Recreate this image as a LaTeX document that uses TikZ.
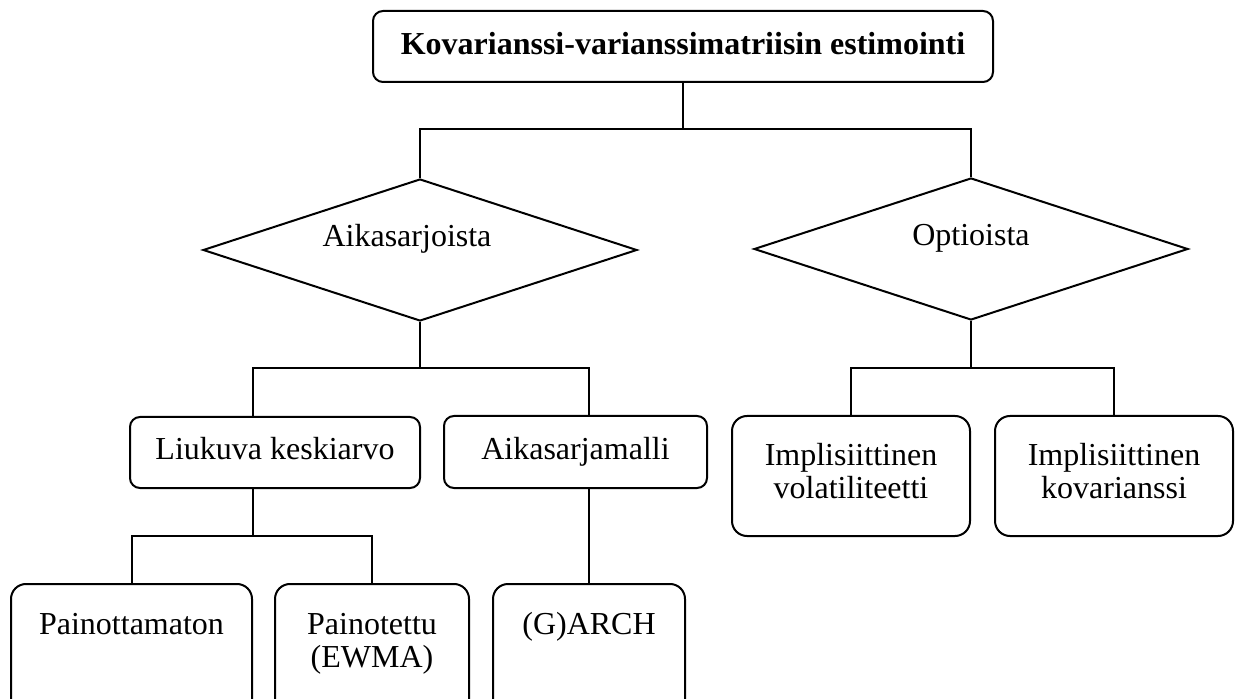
\documentclass[tikz,border=0pt]{standalone}
\usepackage{fontspec}
\setmainfont{Liberation Serif}
\usetikzlibrary{shapes.geometric}
\begin{document}
\begin{tikzpicture}[x=0.5pt,y=-0.5pt,
  line width=1pt,
  every node/.style={font=\fontsize{16}{16.5}\selectfont},
  box/.style={draw, rounded corners=5pt, inner sep=0pt, align=center},
  tallbox/.style={draw, rounded corners=7.5pt, inner sep=0pt, align=center, anchor=north},
  choice/.style={draw, diamond, inner sep=0pt, minimum width=217pt, minimum height=71pt},
]
\useasboundingbox (0,0) rectangle (1235,699);
\clip (0,0) rectangle (1235,699);

% root
\node[box, minimum width=310pt, text height=22pt, text depth=13.5pt,
      font=\fontsize{16}{16.5}\selectfont\bfseries] (top) at (683,46.5)
  {Kovarianssi-varianssimatriisin estimointi};

% two sources
\node[choice, label={[xshift=-6.5pt,yshift=5.5pt]center:Aikasarjoista}] (dA) at (420,250) {};
\node[choice, label={[yshift=5.5pt]center:Optioista}] (dB) at (971,249) {};

% time-series methods
\node[box, minimum width=145pt, text height=21pt, text depth=14.5pt] (liuk) at (275,452.5) {Liukuva keskiarvo};
\node[box, minimum width=131.5pt, text height=21.5pt, text depth=14.5pt] (amalli) at (575.5,452) {Aikasarjamalli};

% option-implied methods
\node[tallbox, minimum width=119pt, text height=41pt, text depth=19pt] (ivol) at (851,415)
  {Implisiittinen\\volatiliteetti};
\node[tallbox, minimum width=119pt, text height=41pt, text depth=19pt] (ikov) at (1114,415)
  {Implisiittinen\\kovarianssi};

% moving-average variants and GARCH
\node[tallbox, minimum width=120.5pt, text height=25pt, text depth=41pt] (pain) at (131.5,583)
  {Painottamaton};
\node[tallbox, minimum width=97pt, text height=41.5pt, text depth=24.5pt] (paint) at (372,583)
  {Painotettu\\(EWMA)};
\node[tallbox, minimum width=96pt, text height=25pt, text depth=41pt] (garch) at (589,583)
  {(G)ARCH};

% bus heights
\coordinate (busTop) at (0,129);
\coordinate (busA) at (0,368);
\coordinate (busB) at (0,368);
\coordinate (busL) at (0,536);

% connectors
\draw (top.south) -- (top.south |- busTop);
\draw (dA.north) |- (dB.north |- busTop) -- (dB.north);

\draw (dA.south) -- (dA.south |- busA);
\draw (liuk.north -| pain.north east) |- (garch.north |- busA) -- (amalli.north -| garch.north);

\draw (liuk.south -| pain.north east) -- (busL -| pain.north east);
\draw (pain.north) |- (paint.north |- busL) -- (paint.north);

\draw (amalli.south -| garch.north) -- (garch.north);

\draw (dB.south) -- (dB.south |- busB);
\draw (ivol.north) |- (ikov.north |- busB) -- (ikov.north);
\end{tikzpicture}
\end{document}
